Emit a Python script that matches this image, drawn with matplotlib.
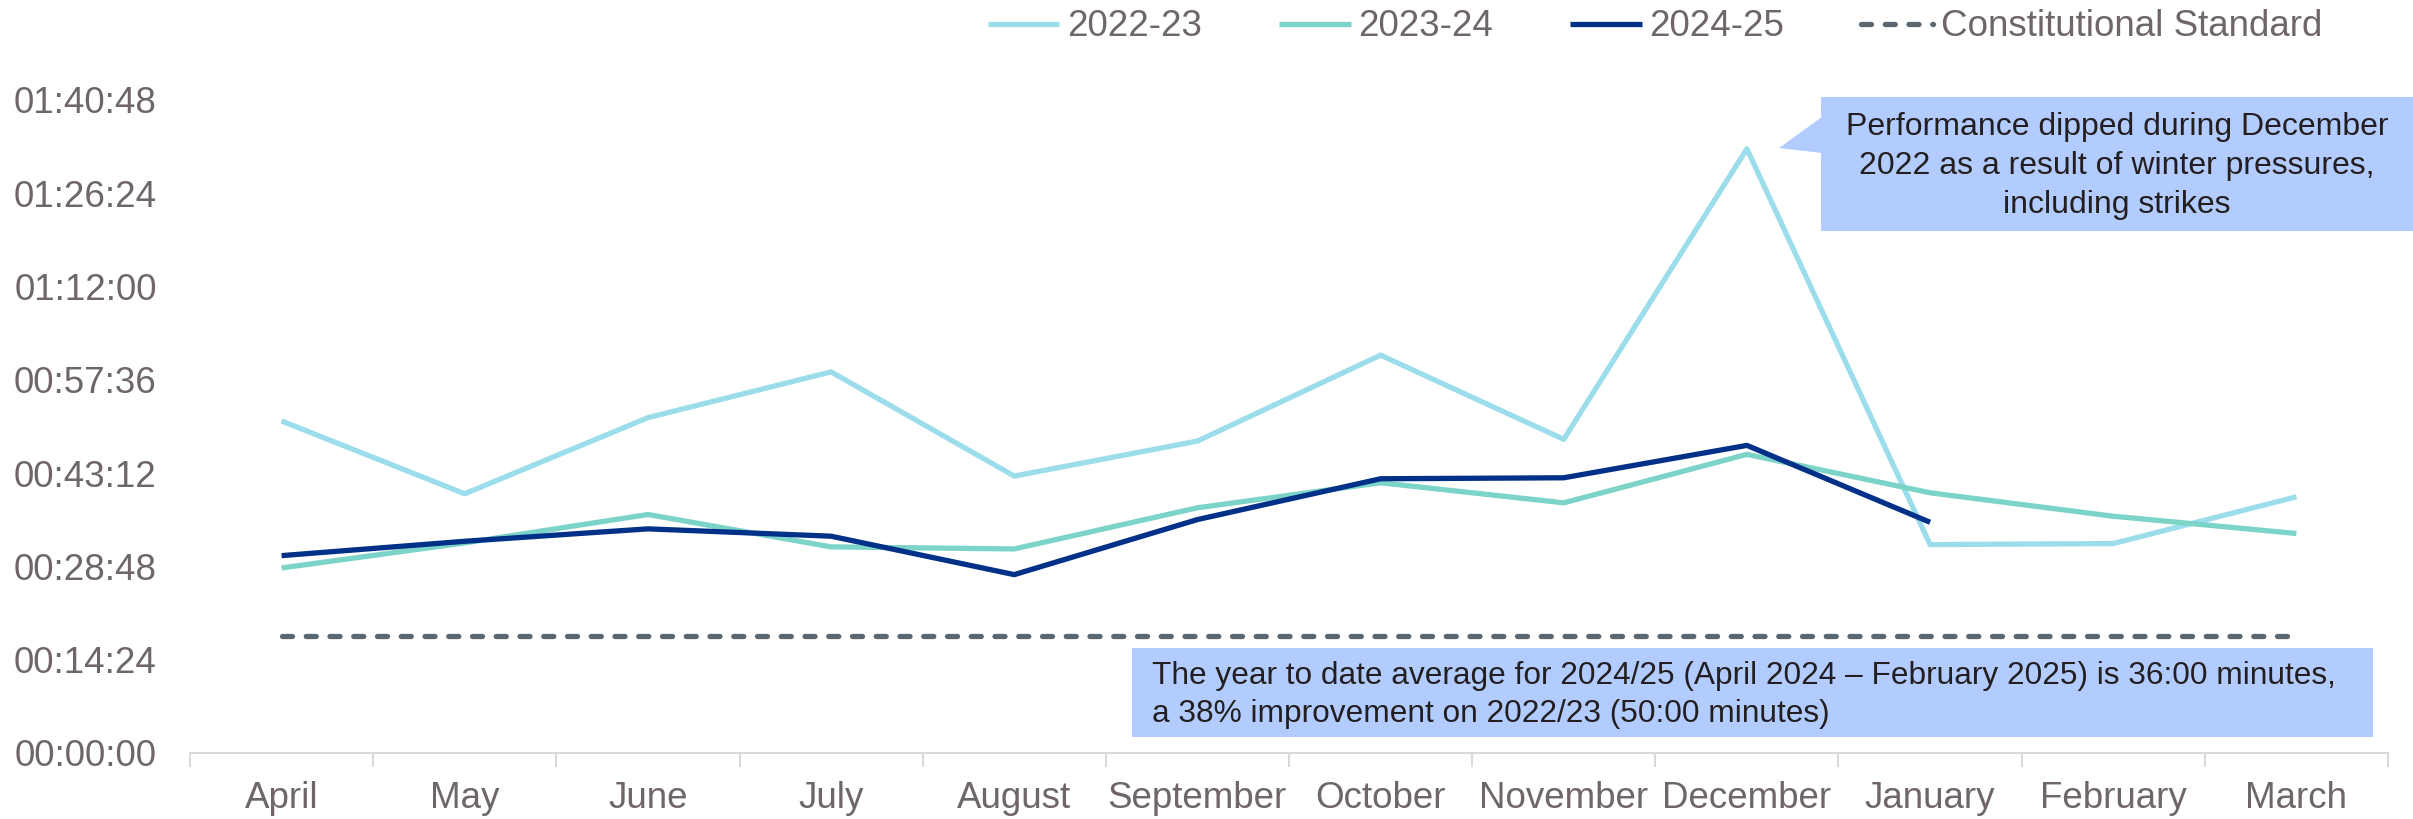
import matplotlib
matplotlib.use("Agg")
import matplotlib.pyplot as plt
from matplotlib.patches import Polygon, Rectangle
from matplotlib.ticker import FixedLocator, FuncFormatter

plt.rcParams['font.family'] = ['Liberation Sans', 'DejaVu Sans']

months = ["April", "May", "June", "July", "August", "September", "October",
          "November", "December", "January", "February", "March"]
# values in seconds
s2022_23 = [3075, 2401, 3106, 3530, 2565, 2889, 3685, 2905, 5596, 1930, 1940, 2373]
s2023_24 = [1714, 1946, 2209, 1909, 1890, 2271, 2503, 2317, 2766, 2410, 2193, 2033]
s2024_25 = [1828, 1961, 2076, 2008, 1652, 2162, 2540, 2549, 2849, 2137]
standard = [1080] * 12
yticks = [0, 864, 1728, 2592, 3456, 4320, 5184, 6048]

C22 = "#9BDDEA"
C23 = "#7CD3C8"
C24 = "#003087"
CSTD = "#5B6770"
TXT = "#6F6668"
BOX = "#B3CCFF"

W, H = 2413, 819
fig = plt.figure(figsize=(W / 100, H / 100), dpi=100)
ax = fig.add_axes([190 / W, 1 - 753 / H, (2388 - 190) / W, (753 - 100) / H])

x = list(range(len(months)))
lw = 3.8
ax.plot(x, s2022_23, color=C22, lw=lw, label="2022-23", solid_capstyle='butt', zorder=3)
ax.plot(x, s2023_24, color=C23, lw=lw, label="2023-24", solid_capstyle='butt', zorder=3)
ax.plot(x[:len(s2024_25)], s2024_25, color=C24, lw=lw, label="2024-25", solid_capstyle='butt', zorder=4)
ax.plot(x, standard, color=CSTD, lw=3.8, linestyle=(0, (1.9, 2.6)), dash_capstyle='round',
        label="Constitutional Standard", zorder=3)

ax.set_xlim(-0.5, 11.5)
ax.set_ylim(0, 6048)

def fmt(v, pos):
    v = int(round(v))
    return "%02d:%02d:%02d" % (v // 3600, (v % 3600) // 60, v % 60)

ax.yaxis.set_major_locator(FixedLocator(yticks))
ax.yaxis.set_major_formatter(FuncFormatter(fmt))
ax.tick_params(axis='y', length=0, pad=24, labelsize=26.5, labelcolor=TXT)

ax.set_xticks(x)
ax.set_xticklabels(months)
ax.set_xticks([i - 0.5 for i in range(13)], minor=True)
ax.tick_params(axis='x', which='major', length=0, pad=20, labelsize=26.5, labelcolor=TXT)
ax.tick_params(axis='x', which='minor', length=10, width=1.5, color="#D9D9D9")

for sp in ['top', 'right', 'left']:
    ax.spines[sp].set_visible(False)
ax.spines['bottom'].set_color("#D9D9D9")
ax.spines['bottom'].set_linewidth(1.5)

def fx(px):
    return px / W

def fy(py):
    return 1 - py / H

# Callout box 1
fig.patches.append(Rectangle((fx(1821), fy(231)), fx(2413) - fx(1821), fy(97) - fy(231),
                             transform=fig.transFigure, facecolor=BOX, edgecolor='none', zorder=5))
fig.patches.append(Polygon([(fx(1822), fy(117)), (fx(1779), fy(148)), (fx(1822), fy(153))],
                           closed=True, transform=fig.transFigure, facecolor=BOX, edgecolor='none', zorder=5))
fig.text(fx(2117), fy(166), "Performance dipped during December\n2022 as a result of winter pressures,\nincluding strikes",
         ha='center', va='center', fontsize=23, color="#231F20", linespacing=1.4, zorder=6)

# Callout box 2
fig.patches.append(Rectangle((fx(1132), fy(737)), fx(2373) - fx(1132), fy(648) - fy(737),
                             transform=fig.transFigure, facecolor=BOX, edgecolor='none', zorder=5))
fig.text(fx(1152), fy(695), "The year to date average for 2024/25 (April 2024 \u2013 February 2025) is 36:00 minutes,\na 38% improvement on 2022/23 (50:00 minutes)",
         ha='left', va='center', fontsize=22.8, color="#231F20", linespacing=1.36, zorder=6)

leg = fig.legend(loc='center right', bbox_to_anchor=(fx(2322), fy(27)), ncol=4, frameon=False,
                 fontsize=26.5, labelcolor=TXT, handlelength=1.95, handletextpad=0.2,
                 columnspacing=2.1, borderaxespad=0, borderpad=0)

fig.savefig("out.png", dpi=100)
